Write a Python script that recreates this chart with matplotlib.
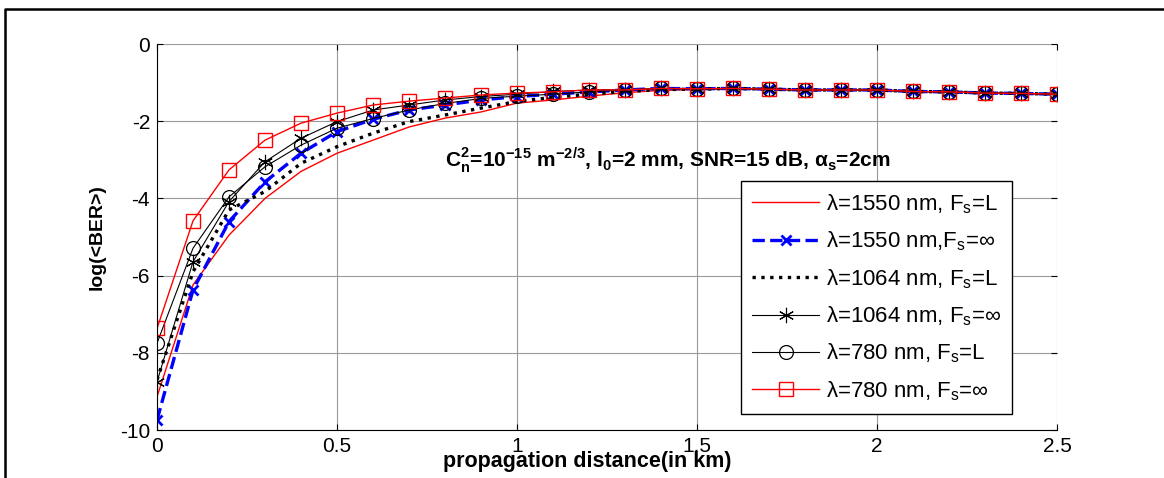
import matplotlib
matplotlib.use("Agg")
import matplotlib.pyplot as plt
from matplotlib.lines import Line2D

plt.rcParams["font.family"] = ["Liberation Sans", "DejaVu Sans"]
plt.rcParams["axes.unicode_minus"] = False

# propagation distance (km)
dist = [0.0, 0.1, 0.2, 0.3, 0.4, 0.5, 0.6, 0.7, 0.8, 0.9, 1.0, 1.1, 1.2,
        1.3, 1.4, 1.5, 1.6, 1.7, 1.8, 1.9, 2.0, 2.1, 2.2, 2.3, 2.4, 2.5]

tail = [-1.19, -1.15, -1.16, -1.15, -1.17, -1.19, -1.19, -1.19,
        -1.23, -1.24, -1.27, -1.28, -1.30]

ber_1550_L = [-9.14, -6.24, -4.95, -4.00, -3.30, -2.83, -2.49, -2.15, -1.92,
              -1.76, -1.53, -1.45, -1.35, -1.26, -1.20, -1.18, -1.16, -1.17,
              -1.19, -1.19, -1.19, -1.23, -1.24, -1.27, -1.28, -1.30]
ber_1550_inf = [-9.74, -6.37, -4.60, -3.57, -2.83, -2.27, -1.95, -1.71, -1.58,
                -1.45, -1.36, -1.30, -1.24] + tail
ber_1064_L = [-8.70, -5.90, -4.30, -3.82, -3.09, -2.66, -2.31, -2.01, -1.84,
              -1.66, -1.49, -1.38, -1.30, -1.23, -1.18, -1.17, -1.15, -1.17,
              -1.19, -1.19, -1.19, -1.23, -1.24, -1.27, -1.28, -1.30]
ber_1064_inf = [-8.75, -5.64, -4.08, -3.05, -2.44, -2.01, -1.71, -1.58, -1.45,
                -1.36, -1.30, -1.23, -1.19] + tail
ber_780_L = [-7.75, -5.29, -3.96, -3.18, -2.62, -2.18, -1.93, -1.71, -1.54,
             -1.41, -1.35, -1.30, -1.24] + tail
ber_780_inf = [-7.37, -4.58, -3.26, -2.49, -2.05, -1.79, -1.58, -1.48, -1.40,
               -1.32, -1.27, -1.24, -1.19] + tail

labels = [
    r"λ=1550 nm, F$_\mathregular{s}$=L",
    r"λ=1550 nm,F$_\mathregular{s}$=∞",
    r"λ=1064 nm, F$_\mathregular{s}$=L",
    r"λ=1064 nm, F$_\mathregular{s}$=∞",
    r"λ=780 nm, F$_\mathregular{s}$=L",
    r"λ=780 nm, F$_\mathregular{s}$=∞",
]

fig = plt.figure(figsize=(11.64, 4.78), dpi=100)
ax = fig.add_axes([0.1349, 0.1004, 0.7732, 0.8075])

ax.plot(dist, ber_1550_L, color="red", lw=1.0, label=labels[0])
ax.plot(dist, ber_1550_inf, color="blue", lw=2.4, ls="--", marker="x",
        ms=7, mew=2, label=labels[1])
ax.plot(dist, ber_1064_L, color="black", lw=2.4, ls=":", label=labels[2])
ax.plot(dist, ber_1064_inf, color="black", lw=0.8, marker=(6, 2, 0), ms=11,
        mew=0.8, label=labels[3])
ax.plot(dist, ber_780_L, color="black", lw=0.8, marker="o", ms=10,
        mfc="none", mew=0.9, label=labels[4])
ax.plot(dist, ber_780_inf, color="red", lw=1.0, marker="s", ms=10,
        mfc="none", mew=1.0, label=labels[5])

ax.set_xlim(0, 2.5)
ax.set_ylim(-10, 0)
ax.set_xticks([0, 0.5, 1, 1.5, 2, 2.5])
ax.set_xticklabels(["0", "0.5", "1", "1.5", "2", "2.5"])
ax.set_yticks([-10, -8, -6, -4, -2, 0])
ax.grid(True, color="#9a9a9a", lw=0.8)
ax.spines["top"].set_visible(False)
ax.spines["right"].set_visible(False)
ax.tick_params(direction="in", length=4, labelsize=15, top=True, right=True,
               pad=5)

ax.set_xlabel("propagation distance(in km)", fontsize=15.5, fontweight="bold")
ax.xaxis.set_label_coords(0.478, -0.055)
ax.set_ylabel("log(<BER>)", fontsize=14, fontweight="bold", labelpad=10)

ax.text(1.42, -3.0,
        r"C$^\mathregular{2}_\mathregular{n}$=10$^\mathregular{-15}$ "
        r"m$^\mathregular{-2/3}$, l$_\mathregular{0}$=2 mm, SNR=15 dB, "
        r"α$_\mathregular{s}$=2cm",
        fontsize=15, fontweight="bold", ha="center", va="center")

leg = ax.legend(loc="upper left", bbox_to_anchor=(0.649, 0.645),
                fontsize=16, frameon=True, fancybox=False, shadow=False,
                handlelength=3.0, handletextpad=0.3, labelspacing=0.62,
                borderpad=0.5, borderaxespad=0)
leg.get_frame().set_edgecolor("black")
leg.get_frame().set_linewidth(1.0)
leg.get_frame().set_alpha(1)

# outer frame of the figure (top and left edges visible)
fig.add_artist(Line2D([0.0043, 0.0043, 1.0], [0.0, 0.981, 0.981],
                      transform=fig.transFigure, color="black", lw=1.8))

fig.savefig("out.png", dpi=100)
